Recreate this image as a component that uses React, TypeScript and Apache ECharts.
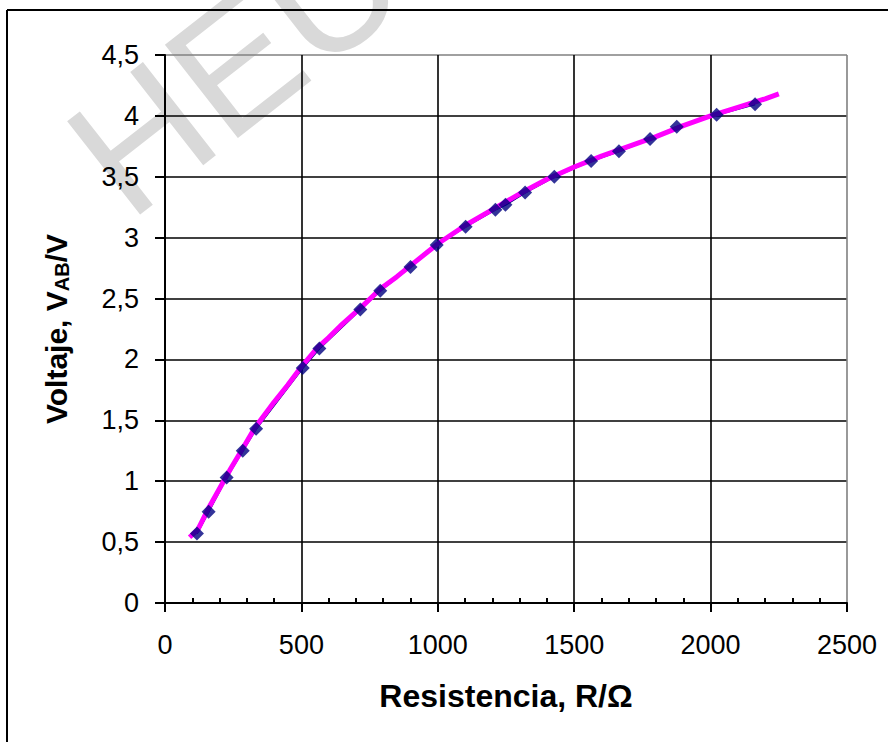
import React, { useEffect, useRef } from 'react';
import * as echarts from 'echarts';

// Measured points (R in ohm, V_AB in volt)
const resistance = [117, 160, 226, 285, 334, 505, 566, 716, 789, 900, 996, 1102, 1211, 1248, 1320, 1427, 1562, 1664, 1778, 1876, 2022, 2163];
const voltage = [0.57, 0.75, 1.03, 1.25, 1.43, 1.93, 2.09, 2.41, 2.565, 2.76, 2.94, 3.09, 3.23, 3.27, 3.37, 3.5, 3.63, 3.71, 3.81, 3.91, 4.01, 4.095];

// Magenta trend curve
const trendResistance = [90, 120, 160, 200, 240, 280, 330, 400, 450, 500, 560, 600, 650, 720, 790, 850, 900, 1000, 1100, 1200, 1300, 1400, 1500, 1600, 1700, 1800, 1900, 2000, 2100, 2200, 2250];
const trendVoltage = [0.54, 0.6, 0.78, 0.94, 1.1, 1.25, 1.44, 1.65, 1.79, 1.94, 2.1, 2.18, 2.29, 2.43, 2.58, 2.68, 2.77, 2.95, 3.1, 3.23, 3.36, 3.48, 3.58, 3.67, 3.75, 3.83, 3.92, 4.0, 4.07, 4.14, 4.18];

const xTickValues = [0, 500, 1000, 1500, 2000, 2500];
const yTickValues = [0, 0.5, 1, 1.5, 2, 2.5, 3, 3.5, 4, 4.5];

const xTitle = 'Resistencia, R/Ω';
const watermark = 'HEU';

export default function App() {
  const ref = useRef<HTMLDivElement>(null);
  useEffect(() => {
    const chart = echarts.init(ref.current!, null, { renderer: 'svg' });
    const measured = resistance.map((r, i) => [r, voltage[i]]);
    const trend = trendResistance.map((r, i) => [r, trendVoltage[i]]);
    const fmt = (v: number) => String(v).replace('.', ',');
    const font = 'Liberation Sans, Arial, sans-serif';
    const xSplitColors = xTickValues.map((_, i) => (i === xTickValues.length - 1 ? '#808080' : '#000'));
    const ySplitColors = yTickValues.map((_, i) => (i === yTickValues.length - 1 ? '#808080' : '#000'));
    chart.setOption({
      animation: false,
      backgroundColor: '#fff',
      grid: { left: 165, top: 55, right: 41, bottom: 139, containLabel: false },
      xAxis: {
        type: 'value',
        min: xTickValues[0],
        max: xTickValues[xTickValues.length - 1],
        interval: 500,
        name: xTitle,
        nameLocation: 'middle',
        nameGap: 77,
        nameMoveOverlap: false,
        nameTextStyle: { fontFamily: font, fontSize: 32, fontWeight: 'bold', color: '#000' },
        axisLine: { show: true, onZero: false, lineStyle: { color: '#000', width: 2 } },
        axisTick: { show: true, inside: false, length: 9, lineStyle: { color: '#000', width: 2 } },
        minorTick: { show: true, splitNumber: 5, length: -5, lineStyle: { color: '#000', width: 2 } },
        axisLabel: { fontFamily: font, fontSize: 27, color: '#000', margin: 28, formatter: fmt },
        splitLine: { show: true, lineStyle: { color: xSplitColors, width: 1.6 } },
      },
      yAxis: {
        type: 'value',
        min: yTickValues[0],
        max: yTickValues[yTickValues.length - 1],
        interval: 0.5,
        name: '{b|Voltaje, V}{s|AB}{b|/V}',
        nameLocation: 'middle',
        nameRotate: 90,
        nameGap: 93,
        nameMoveOverlap: false,
        nameTextStyle: {
          fontFamily: font,
          fontSize: 30,
          fontWeight: 'bold',
          color: '#000',
          rich: {
            b: { fontFamily: font, fontSize: 30, fontWeight: 'bold', color: '#000', lineHeight: 32 },
            s: { fontFamily: font, fontSize: 20, fontWeight: 'bold', color: '#000', lineHeight: 22, verticalAlign: 'bottom' },
          },
        },
        axisLine: { show: true, onZero: false, lineStyle: { color: '#000', width: 2 } },
        axisTick: { show: true, inside: false, length: 10, lineStyle: { color: '#000', width: 2 } },
        axisLabel: { fontFamily: font, fontSize: 27, color: '#000', margin: 26, formatter: fmt },
        splitLine: { show: true, lineStyle: { color: ySplitColors, width: 1.6 } },
      },
      graphic: [
        {
          type: 'text',
          x: 92,
          y: 176,
          rotation: (38 * Math.PI) / 180,
          z: -10,
          silent: true,
          style: {
            text: watermark,
            fontSize: 172,
            fontFamily: font,
            fill: '#d9d9d9',
            align: 'left',
            verticalAlign: 'middle',
          },
        },
        { type: 'line', z: 100, shape: { x1: 7, y1: 10, x2: 888, y2: 10 }, style: { stroke: '#000', lineWidth: 2 } },
        { type: 'line', z: 100, shape: { x1: 7, y1: 10, x2: 7, y2: 742 }, style: { stroke: '#000', lineWidth: 2 } },
      ],
      series: [
        {
          type: 'line',
          data: measured,
          z: 2,
          symbol: 'none',
          lineStyle: { color: '#000080', width: 2 },
        },
        {
          type: 'line',
          data: trend,
          z: 3,
          symbol: 'none',
          lineStyle: { color: '#ff00ff', width: 5 },
        },
        {
          type: 'scatter',
          data: measured,
          z: 4,
          symbol: 'diamond',
          symbolSize: 14,
          itemStyle: { color: '#000080' },
        },
      ],
    });
    return () => chart.dispose();
  }, []);
  return <div ref={ref} style={{ position: 'fixed', left: 0, top: 0, width: 888, height: 742, background: '#fff' }} />;
}
